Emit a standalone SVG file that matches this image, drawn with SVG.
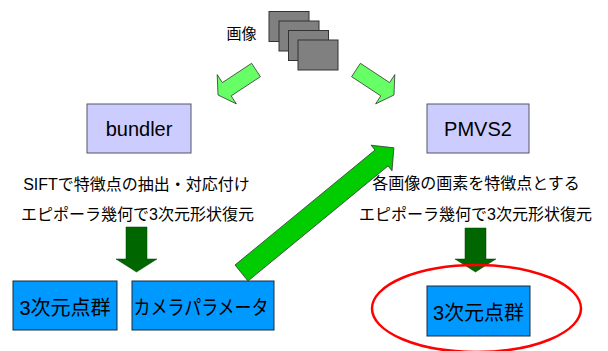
<svg xmlns="http://www.w3.org/2000/svg" width="608" height="351" viewBox="0 0 608 351">
  <style>
    text { font-family: "Liberation Sans", "Noto Sans CJK JP", sans-serif; fill: #000; }
    .img { fill: #808080; stroke: #333; stroke-width: 1; }
    .tool { fill: #CCCCFF; stroke: #555566; stroke-width: 1; }
    .out { fill: #0099FF; stroke: #1a2a3a; stroke-width: 1; }
    .lg { fill: #66FF66; stroke: #333; stroke-width: 0.8; }
    .bg { fill: #00CC00; stroke: #333; stroke-width: 0.8; }
    .dg { fill: #006600; stroke: #004000; stroke-width: 0.5; }
    .lbl { font-size: 16px; text-anchor: middle; }
    .big { font-size: 20px; text-anchor: middle; }
  </style>
  <rect width="608" height="351" fill="#fff"/>

  <g id="images">
    <text x="241.5" y="39" font-size="15" text-anchor="middle">画像</text>
    <rect class="img" x="269" y="11.5" width="40" height="30"/>
    <rect class="img" x="279" y="21" width="40" height="30"/>
    <rect class="img" x="288.5" y="30.5" width="40" height="30"/>
    <rect class="img" x="298" y="40" width="40" height="30"/>
  </g>

  <g id="bundler">
    <rect class="tool" x="87" y="104" width="104" height="49"/>
    <text class="big" x="139" y="136">bundler</text>
  </g>

  <g id="pmvs2">
    <rect class="tool" x="427" y="104" width="102" height="49"/>
    <text class="big" x="478" y="136">PMVS2</text>
  </g>

  <g id="bundler-desc">
    <text class="lbl" x="136.5" y="190">SIFTで特徴点の抽出・対応付け</text>
    <text class="lbl" x="137.5" y="220">エピポーラ幾何で3次元形状復元</text>
  </g>

  <g id="pmvs-desc">
    <text class="lbl" x="476" y="189">各画像の画素を特徴点とする</text>
    <text class="lbl" x="475.5" y="220">エピポーラ幾何で3次元形状復元</text>
  </g>

  <g id="points-left">
    <rect class="out" x="13" y="281" width="104" height="49"/>
    <text class="big" x="65" y="315">3次元点群</text>
  </g>

  <g id="camera-params">
    <rect class="out" x="132" y="281" width="142" height="49"/>
    <text class="big" x="201" y="315" textLength="135" lengthAdjust="spacingAndGlyphs">カメラパラメータ</text>
  </g>

  <g id="points-right">
    <rect class="out" x="427" y="286" width="103" height="50"/>
    <text class="big" x="478.5" y="320">3次元点群</text>
  </g>

  <g id="connectors">
    <polygon class="lg" points="251.6,63.3 222.4,82.6 217.2,74.6 218,95 236.4,103.9 231.2,95.9 260.4,76.7"/>
    <polygon class="lg" points="360.4,63.3 389.6,82.6 394.8,74.6 394,95 375.6,103.9 380.8,95.9 351.6,76.7"/>
    <polygon class="bg" points="235,265 375,150 371,145.2 393.9,147.8 392,170.8 388,166 248,281"/>
    <polygon class="dg" points="126,227 147,227 147,259 157,259 136.5,272 116,259 126,259"/>
    <polygon class="dg" points="465,228 486,228 486,259 496,259 475.5,272 455,259 465,259"/>
  </g>

  <g id="highlight">
    <ellipse cx="476.5" cy="308.5" rx="104.5" ry="43.5" fill="none" stroke="#FF0000" stroke-width="2.5"/>
  </g>
</svg>
